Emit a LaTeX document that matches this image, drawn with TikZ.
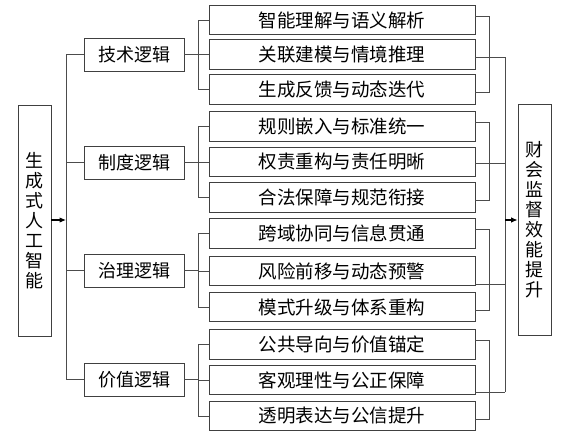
\documentclass[tikz,border=0pt]{standalone}
\usepackage{fontspec}
\newfontfamily\cjk{Noto Sans CJK SC}
\usetikzlibrary{arrows.meta}
\begin{document}
\begin{tikzpicture}[x=1pt,y=-1pt,
  box/.style={draw=black!75, line width=0.9pt, inner sep=0pt, font=\cjk\fontsize{18}{20}\selectfont},
  vbox/.style={box, minimum width=33pt, minimum height=231pt, align=center},
  lvone/.style={box, minimum width=100pt, minimum height=33pt},
  leaf/.style={box, minimum width=266pt, minimum height=29.5pt, font=\cjk\fontsize{18.5}{20}\selectfont},
  conn/.style={draw=black!70, line width=0.9pt},
  arr/.style={draw=black, line width=1.1pt, -{Latex[length=6.5pt,width=5.5pt]}}]
\useasboundingbox (0,0) rectangle (578,439);
\fill[white] (0,0) rectangle (578,439);
% side boxes
\node[vbox] (L) at (34.5,220.5) {\cjk\fontsize{18}{20.5}\selectfont 生\\成\\式\\人\\工\\智\\能};
\node[vbox] (R) at (534.5,220) {\cjk\fontsize{18}{21.5}\selectfont 财\\会\\监\\督\\效\\能\\提\\升};
% level one
\node[lvone] (A1) at (134,54.5) {技术逻辑};
\node[lvone] (A2) at (134,162.5) {制度逻辑};
\node[lvone] (A3) at (134,270.5) {治理逻辑};
\node[lvone] (A4) at (134,379.5) {价值逻辑};
% leaves
\node[leaf] (C1) at (342,20) {智能理解与语义解析};
\node[leaf] (C2) at (342,54.5) {关联建模与情境推理};
\node[leaf] (C3) at (342,89.5) {生成反馈与动态迭代};
\node[leaf] (C4) at (342,126.5) {规则嵌入与标准统一};
\node[leaf] (C5) at (342,162) {权责重构与责任明晰};
\node[leaf] (C6) at (342,197.5) {合法保障与规范衔接};
\node[leaf] (C7) at (342,233.5) {跨域协同与信息贯通};
\node[leaf] (C8) at (342,271) {风险前移与动态预警};
\node[leaf] (C9) at (342,307) {模式升级与体系重构};
\node[leaf] (C10) at (342,344.5) {公共导向与价值锚定};
\node[leaf] (C11) at (342,380) {客观理性与公正保障};
\node[leaf] (C12) at (342,416) {透明表达与公信提升};
% left main bus
\coordinate (busL) at (66,220);
\draw[conn] (A1.west -| busL) -- (A4.west -| busL);
\foreach \a in {A1,A2,A3,A4} \draw[conn] (\a.west -| busL) -- (\a.west);
\draw[arr] (L.east |- busL) -- (busL);
% left brackets
\foreach \a/\t/\m/\b in {A1/C1/C2/C3, A2/C4/C5/C6, A3/C7/C8/C9, A4/C10/C11/C12} {
  \coordinate (x\a) at ([xshift=14pt]\a.east);
  \draw[conn] (\a.east) -- (x\a);
  \draw[conn] (\t.west -| x\a) -- (\b.west -| x\a);
  \draw[conn] (\t.west -| x\a) -- (\t.west);
  \draw[conn] (\m.west -| x\a) -- (\m.west);
  \draw[conn] (\b.west -| x\a) -- (\b.west);
}
% right brackets
\coordinate (busR) at (505,220);
\foreach \t/\m/\b/\s in {C1/C2/C3/-2.5, C4/C5/C6/-1, C7/C8/C9/-13, C10/C11/C12/-12} {
  \coordinate (rt\m) at ([xshift=14pt,yshift=4pt]\t.east);
  \coordinate (rb\m) at ([xshift=14pt,yshift=-3pt]\b.east);
  \draw[conn] ([yshift=4pt]\t.east) -- (rt\m) -- (rb\m) -- ([yshift=-3pt]\b.east);
  \coordinate (rm\m) at ([yshift=\s pt]\m.east);
  \draw[conn] (rm\m) -- (rm\m -| busR);
}
\draw[conn] (rmC2 -| busR) -- (rmC11 -| busR);
\draw[arr] (busR) -- (R.west |- busR);
\end{tikzpicture}
\end{document}
